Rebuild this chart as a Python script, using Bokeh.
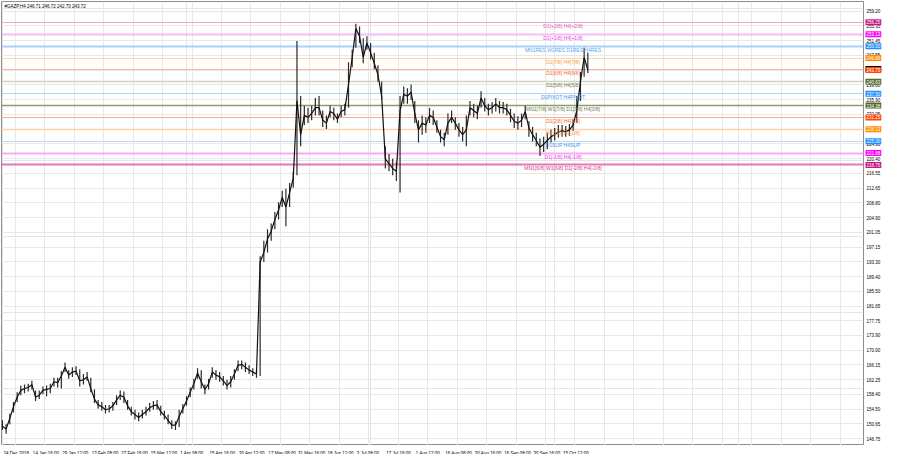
from bokeh.plotting import figure
from bokeh.models import Range1d, FixedTicker, Label, Grid
from bokeh.layouts import row, column
from bokeh.core.properties import value
from bokeh.embed import file_html
from bokeh.resources import INLINE

# ---------------- data ----------------
symbol = "#GAZP,H4"
last_ohlc = [246.71, 246.72, 242.70, 243.72]

# one sample every 4 H4 bars (close / high / low)
close = [150.06, 149.30, 152.10, 155.14, 157.68, 159.46, 159.96, 160.22, 160.98, 157.68,
         158.19, 159.46, 159.71, 159.96, 161.74, 161.49, 163.27, 165.55, 163.52, 164.28,
         164.53, 162.00, 162.25, 163.01, 159.96, 157.17, 155.65, 155.14, 154.38, 154.63,
         155.40, 156.92, 158.19, 157.68, 155.40, 153.87, 153.11, 152.35, 153.11, 153.87,
         154.89, 155.40, 155.65, 153.87, 152.86, 151.59, 150.32, 150.32, 152.60, 154.63,
         156.66, 158.95, 161.24, 164.03, 161.74, 159.71, 161.24, 164.28, 163.52, 163.01,
         162.00, 160.73, 161.74, 163.77, 166.06, 166.31, 165.55, 164.79, 164.28, 163.77,
         193.21, 195.75, 199.30, 201.34, 204.38, 206.91, 210.21, 207.68, 211.48, 215.29,
         235.60, 226.71, 231.79, 231.28, 232.29, 233.82, 233.82, 230.52, 229.76, 232.80,
         232.29, 230.77, 232.80, 233.31, 239.91, 247.02, 254.63, 252.60, 247.02, 250.82,
         248.29, 245.49, 242.45, 236.86, 220.37, 219.10, 217.83, 217.07, 233.05, 237.37,
         236.86, 237.88, 232.29, 227.98, 229.76, 229.25, 231.79, 231.28, 228.74, 226.20,
         225.44, 229.76, 231.28, 229.76, 227.98, 226.71, 227.98, 233.82, 233.05, 232.29,
         236.36, 234.33, 233.31, 233.82, 234.83, 233.82, 233.82, 233.31, 231.79, 230.26,
         229.76, 230.52, 232.80, 228.49, 226.71, 225.19, 223.41, 224.18, 225.19, 226.20,
         226.71, 227.47, 227.73, 227.47, 227.98, 229.25, 233.05, 240.67, 247.02, 243.72]

high = [151.59, 150.57, 153.37, 156.41, 158.95, 160.73, 160.98, 161.24, 162.00, 159.46,
        159.46, 160.47, 160.73, 161.24, 162.76, 162.76, 164.53, 166.82, 164.79, 165.55,
        165.80, 165.04, 163.77, 164.28, 162.76, 159.71, 156.92, 156.41, 155.65, 155.65,
        156.41, 158.19, 159.46, 159.20, 156.92, 155.14, 154.38, 153.62, 154.38, 155.14,
        156.16, 156.66, 156.92, 155.40, 154.13, 153.11, 151.59, 151.33, 154.38, 155.90,
        157.93, 160.22, 162.51, 165.30, 164.79, 160.98, 162.51, 165.55, 164.79, 164.28,
        163.27, 162.25, 163.27, 165.04, 167.32, 167.32, 166.82, 166.06, 165.30, 164.79,
        194.73, 198.79, 201.84, 203.36, 206.41, 208.95, 211.99, 212.50, 214.02, 217.07,
        251.33, 236.86, 234.33, 233.82, 234.33, 236.36, 236.86, 233.05, 231.79, 234.33,
        233.82, 232.29, 234.33, 234.83, 245.75, 249.05, 255.90, 255.14, 252.09, 252.60,
        250.82, 248.29, 244.99, 240.67, 223.67, 221.64, 220.37, 219.60, 236.86, 239.40,
        238.90, 239.91, 235.60, 230.52, 231.79, 231.28, 233.82, 233.05, 230.52, 227.98,
        227.22, 232.29, 233.05, 231.28, 229.76, 228.74, 231.79, 235.60, 234.83, 234.33,
        238.13, 236.36, 234.83, 235.34, 236.36, 235.60, 235.34, 234.83, 233.56, 232.29,
        231.54, 232.29, 234.33, 230.26, 228.74, 227.22, 225.70, 226.20, 227.22, 227.98,
        228.49, 229.25, 229.25, 229.00, 229.50, 230.77, 236.86, 243.21, 249.56, 248.29]

low = [149.05, 148.04, 150.57, 153.62, 156.41, 158.19, 158.69, 159.20, 159.71, 156.66,
       157.17, 158.44, 157.93, 158.69, 160.47, 160.22, 159.96, 164.28, 162.51, 163.01,
       163.52, 160.47, 160.98, 162.00, 158.95, 156.16, 154.63, 154.13, 153.37, 153.62,
       154.13, 155.65, 156.92, 156.16, 154.38, 152.86, 151.84, 151.33, 152.10, 152.86,
       153.87, 154.38, 154.38, 152.86, 151.84, 150.57, 149.30, 149.05, 149.81, 153.37,
       155.40, 157.68, 159.71, 162.51, 159.96, 158.44, 159.71, 162.76, 162.25, 161.74,
       160.73, 159.71, 160.22, 162.25, 164.53, 165.04, 164.28, 163.77, 163.27, 162.76,
       163.27, 193.21, 195.75, 198.79, 201.84, 204.38, 207.68, 202.60, 207.68, 212.75,
       216.05, 223.67, 229.25, 229.76, 230.52, 231.79, 231.79, 228.74, 228.23, 231.28,
       230.52, 229.76, 231.28, 231.79, 233.82, 244.48, 249.56, 250.82, 245.49, 249.05,
       246.51, 243.97, 240.67, 236.10, 217.83, 217.07, 216.05, 214.53, 211.48, 234.83,
       234.83, 235.85, 229.76, 224.68, 226.71, 227.22, 229.76, 229.25, 227.22, 224.68,
       223.67, 226.71, 229.76, 227.98, 226.20, 224.94, 223.67, 231.79, 231.28, 230.77,
       233.82, 232.80, 231.79, 232.29, 232.80, 232.29, 232.29, 231.79, 230.01, 228.49,
       227.98, 228.74, 230.77, 226.20, 224.94, 223.67, 221.13, 222.14, 222.91, 224.68,
       225.19, 225.95, 226.20, 226.20, 226.46, 227.73, 229.76, 235.60, 241.94, 242.95]

bars_per_sample = 4
bars = [i * bars_per_sample for i in range(len(close))]

date_labels = ["24 Dec 2018", "14 Jan 16:00", "29 Jan 12:00", "13 Feb 08:00", "27 Feb 16:00",
               "15 Mar 12:00", "1 Apr 08:00", "15 Apr 16:00", "30 Apr 12:00", "17 May 08:00",
               "31 May 16:00", "18 Jun 12:00", "3 Jul 08:00", "17 Jul 16:00", "1 Aug 12:00",
               "16 Aug 08:00", "30 Aug 16:00", "16 Sep 08:00", "30 Sep 16:00", "15 Oct 12:00"]
bars_per_label = 32

price_labels = ["146.75", "150.65", "154.50", "158.40", "162.25", "166.15", "170.00", "173.90",
                "177.75", "181.65", "185.50", "189.40", "193.30", "197.15", "201.05", "204.90",
                "208.80", "212.65", "216.55", "220.40", "224.30", "228.15", "232.05", "235.90",
                "239.80", "243.70", "247.55", "251.45", "255.35", "259.20"]

levels = [256.25, 253.13, 250.00, 246.88, 243.75, 240.63, 237.50, 234.38,
          231.25, 228.13, 225.00, 221.88, 218.75]
level_names = ["D1[+2/8] H4[+2/8]", "D1[+1/8] H4[+1/8]", "MN1RES W1RES D1RES H4RES",
               "D1[7/8] H4[7/8]", "D1[6/8] H4[6/8]", "D1[5/8] H4[5/8]", "D1PIVOT H4PIVOT",
               "MN1[7/8] W1[7/8] D1[3/8] H4[3/8]", "D1[2/8] H4[2/8]", "D1[1/8] H4[1/8]",
               "D1SUP H4SUP", "D1[-1/8] H4[-1/8]", "MN1[6/8] W1[6/8] D1[-2/8] H4[-2/8]"]

# ---------------- styles ----------------
box_colors = ["#c71585", "#ff00ff", "#1e90ff", "#ff8c00", "#ff4500", "#556b2f", "#1e90ff",
              "#556b2f", "#ff4500", "#ff8c00", "#1e90ff", "#ff00ff", "#c71585"]
line_colors = ["#eba9cf", "#f7bcf7", "#a9d3fb", "#fdd6ab", "#fbb8a0", "#cfd3c1", "#aed5fb",
               "#8d9a70", "#fbb096", "#fdd3a6", "#b7dafb", "#f7abf7", "#e678b4"]
line_widths = [1, 2, 2, 1, 1, 1.5, 1, 1.5, 1, 1.5, 1, 2, 2]
text_colors = ["#dc5fa5", "#f03cf0", "#5aa8f0", "#f59a3c", "#f26a40", "#6e7d4a", "#3c96f0",
               "#6e7d4a", "#f26a40", "#f59a3c", "#3c96f0", "#f03cf0", "#d03c8c"]

FONT = "Liberation Sans"
x_start, x_end = -1, 935.5
y_start, y_end = 144.97, 261.74
FRAME_W, FRAME_H = 862, 444
STRIP_H = 9

# ---------------- main chart ----------------
p = figure(title=None, frame_width=FRAME_W, frame_height=FRAME_H,
           min_border_left=1, min_border_top=1, min_border_right=1, min_border_bottom=0,
           x_range=Range1d(x_start, x_end), y_range=Range1d(y_start, y_end),
           x_axis_location=None, y_axis_location=None,
           output_backend="svg", toolbar_location=None,
           background_fill_color="white", border_fill_color="white")
p.outline_line_color = "#8c8c8c"

price_vals = [float(s) for s in price_labels]
date_ticks = [i * bars_per_label for i in range(len(date_labels))]
grid_ticks = [14 + i * bars_per_label for i in range(int((x_end - 14) // bars_per_label) + 1)]
p.add_layout(Grid(dimension=0, ticker=FixedTicker(ticks=grid_ticks),
                  grid_line_color="#e8e8e8"))
p.add_layout(Grid(dimension=1, ticker=FixedTicker(ticks=price_vals),
                  grid_line_color="#e8e8e8"))

# level lines
p.hspan(y=levels, line_color=line_colors, line_width=line_widths)

# price bars
p.segment(x0=bars, y0=low, x1=bars, y1=high, line_color="#2a2a2a", line_width=1.2)
p.line(bars, close, line_color="#111111", line_width=1.2)

# level names
label_bar = 609
p.text(x=[label_bar] * len(levels), y=levels, text=level_names, text_color=text_colors,
       text_font=value(FONT), text_font_size="5px", text_align="center",
       text_baseline="top", y_offset=0.5)

# header
header = symbol + "  " + " ".join(f"{v:.2f}" for v in last_ohlc)
p.add_layout(Label(x=x_start, y=y_end, x_offset=3, y_offset=-2, text=header,
                   text_font=FONT, text_font_size="4.5px", text_color="black",
                   text_align="left", text_baseline="top"))

# ---------------- price scale strip ----------------
ps = figure(title=None, width=20, height=FRAME_H + 1, min_border_left=0, min_border_right=0,
            min_border_top=1, min_border_bottom=0,
            x_range=Range1d(0, 1), y_range=p.y_range,
            x_axis_location=None, y_axis_location=None,
            output_backend="svg", toolbar_location=None,
            background_fill_color="white", border_fill_color="white")
ps.outline_line_color = None
ps.grid.visible = False
ps.text(x=[0] * len(price_labels), y=price_vals, text=price_labels, x_offset=2,
        text_font=value(FONT), text_font_size="4.5px", text_color="black",
        text_align="left", text_baseline="middle")
ps.add_layout(Label(x=0, y=last_ohlc[3], x_offset=1, y_offset=1, text=f"{last_ohlc[3]:.2f}",
                    text_font=FONT, text_font_size="4.5px", text_color="white",
                    text_align="left", text_baseline="middle",
                    background_fill_color="black", padding=1))
for lvl, c in zip(levels, box_colors):
    ps.add_layout(Label(x=0, y=lvl, x_offset=1, text=f"{lvl:.2f}",
                        text_font=FONT, text_font_size="4.5px", text_color="white",
                        text_align="left", text_baseline="middle",
                        background_fill_color=c, padding=1))

# ---------------- time scale strip ----------------
ts = figure(title=None, width=FRAME_W + 2, height=STRIP_H, min_border_left=1, min_border_right=1,
            min_border_top=0, min_border_bottom=0,
            x_range=p.x_range, y_range=Range1d(-1, 1),
            x_axis_location=None, y_axis_location=None,
            output_backend="svg", toolbar_location=None,
            background_fill_color="white", border_fill_color="white")
ts.outline_line_color = None
ts.grid.visible = False
ts.text(x=date_ticks, y=[0] * len(date_ticks), text=date_labels, x_offset=1,
        text_font=value(FONT), text_font_size="4.5px", text_color="black",
        text_align="left", text_baseline="middle")

layout = column(row(p, ps), ts)
open("out.html", "w").write(file_html(layout, INLINE))
